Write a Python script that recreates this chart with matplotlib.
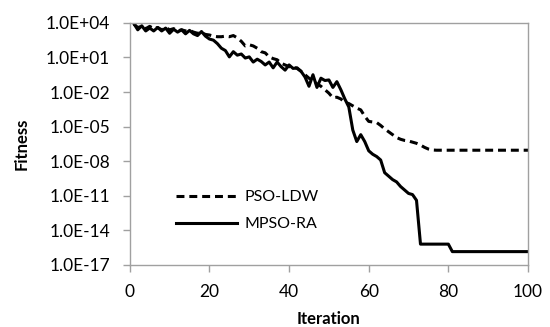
import numpy as np
import matplotlib.pyplot as plt
from matplotlib.ticker import FixedLocator, NullLocator, FuncFormatter

plt.rcParams['font.family'] = ['Lato', 'DejaVu Sans']

iterations = np.arange(1, 101)

pso_ldw_log = [
    3.9, 3.6, 3.7, 3.5, 3.7, 3.5, 3.6, 3.4, 3.6, 3.4,
    3.5, 3.3, 3.4, 3.3, 3.35, 3.2, 3.1, 3.15, 3.0, 2.95,
    2.85, 2.8, 2.8, 2.85, 2.8, 2.9, 2.7, 2.4, 2.0, 2.1,
    2.0, 1.8, 1.5, 1.4, 1.05, 0.9, 0.8, 0.5, 0.35, 0.2,
    0.15, 0.05, -0.2, -0.5, -0.8, -1.0, -1.3, -1.5, -1.8, -2.1,
    -2.5, -2.45, -2.6, -2.9, -3.0, -3.2, -3.4, -3.55, -4.1, -4.55,
    -4.6, -4.65, -4.9, -5.2, -5.45, -5.7, -5.95, -6.1, -6.2, -6.25,
    -6.35, -6.45, -6.6, -6.8, -6.95, -7.03, -7.05, -7.05, -7.05, -7.05,
    -7.05, -7.05, -7.05, -7.05, -7.05, -7.05, -7.05, -7.05, -7.05, -7.05,
    -7.05, -7.05, -7.05, -7.05, -7.05, -7.05, -7.05, -7.05, -7.05, -7.05,
]

mpso_ra_log = [
    3.95, 3.4, 3.75, 3.3, 3.55, 3.3, 3.6, 3.3, 3.55, 3.1,
    3.45, 3.2, 3.4, 3.05, 3.35, 3.05, 2.9, 3.25, 2.85, 2.6,
    2.5, 2.2, 1.8, 1.6, 1.05, 1.5, 1.2, 1.3, 0.95, 1.05,
    0.6, 0.85, 0.65, 0.35, 0.6, 0.1, 0.6, 0.2, -0.1, 0.35,
    0.05, 0.1, -0.2, -0.7, -1.5, -0.5, -1.6, -0.8, -1.0, -0.95,
    -1.6, -1.1, -1.8, -2.6, -3.3, -5.3, -6.3, -5.7, -6.3, -7.1,
    -7.4, -7.6, -7.9, -9.0, -9.3, -9.6, -9.8, -10.2, -10.5, -10.8,
    -10.9, -11.4, -15.2, -15.2, -15.2, -15.2, -15.2, -15.2, -15.2, -15.2,
    -15.85, -15.85, -15.85, -15.85, -15.85, -15.85, -15.85, -15.85, -15.85, -15.85,
    -15.85, -15.85, -15.85, -15.85, -15.85, -15.85, -15.85, -15.85, -15.85, -15.85,
]

y_ticks = [1e4, 1e1, 1e-2, 1e-5, 1e-8, 1e-11, 1e-14, 1e-17]
x_ticks = [0, 20, 40, 60, 80, 100]

pso_ldw = 10.0 ** np.array(pso_ldw_log)
mpso_ra = 10.0 ** np.array(mpso_ra_log)

fig = plt.figure(figsize=(5.5, 3.27), dpi=100)
ax = fig.add_axes([0.236, 0.19, 0.724, 0.74])

ax.plot(iterations, pso_ldw, color='black', lw=2.2, linestyle=(0, (2.6, 1.6)),
        label='PSO-LDW', solid_joinstyle='round')
ax.plot(iterations, mpso_ra, color='black', lw=2.2, label='MPSO-RA',
        solid_joinstyle='round')

ax.set_yscale('log')
ax.set_ylim(1e-17, 1e4)
ax.set_xlim(0, 100)
ax.yaxis.set_major_locator(FixedLocator(y_ticks))
ax.yaxis.set_minor_locator(NullLocator())
ax.yaxis.set_major_formatter(FuncFormatter(
    lambda v, pos: '1.0E' + ('+' if v >= 1 else '-') + '%02d' % abs(int(round(np.log10(v))))))
ax.set_xticks(x_ticks)

for s in ax.spines.values():
    s.set_color('#a0a0a0')
    s.set_linewidth(1.0)
ax.tick_params(axis='both', direction='out', color='#a0a0a0', length=5,
               width=1.0, labelsize=12.5)
ax.tick_params(axis='x', pad=9)
ax.tick_params(axis='y', pad=9)

ax.set_xlabel('Iteration', fontsize=12, fontweight='bold', labelpad=8)
ax.set_ylabel('Fitness', fontsize=12, fontweight='bold', labelpad=12)

ax.legend(loc='lower left', bbox_to_anchor=(0.08, 0.08), frameon=False,
          fontsize=11.5, handlelength=3.8, handletextpad=0.5, labelspacing=0.8)

fig.savefig('out.png', dpi=100)
